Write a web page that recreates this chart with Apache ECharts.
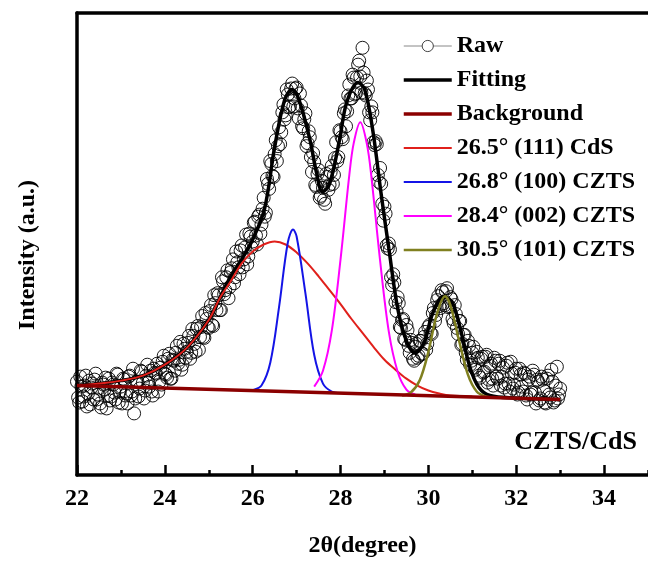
<!DOCTYPE html>
<html>
<head>
<meta charset="utf-8">
<script src="https://cdn.jsdelivr.net/npm/echarts@6/dist/echarts.min.js"></script>
<style>
html,body{margin:0;padding:0;background:#fff;}
#chart{width:648px;height:563px;}
</style>
</head>
<body>
<div id="chart"></div>
<script>
// ---- data (2theta in degrees, intensity in arbitrary units) ----
const seriesNames = ['Raw', 'Fitting', 'Background', '26.5\u00b0 (111) CdS', '26.8\u00b0 (100) CZTS', '28.4\u00b0 (002) CZTS', '30.5\u00b0 (101) CZTS'];
const xTitle = '2\u03b8(degree)';
const yTitle = 'Intensity (a.u.)';
const sampleLabel = 'CZTS/CdS';

const rawData = [
[22.00,94],[22.05,73],[22.10,89],[22.15,79],[22.20,100],[22.25,82],[22.30,71],[22.35,92],[22.40,96],[22.45,76],
[22.50,87],[22.55,68],[22.60,91],[22.65,98],[22.70,80],[22.75,75],[22.80,93],[22.85,83],[22.90,102],[22.95,73],
[23.00,89],[23.05,97],[23.10,80],[23.15,72],[23.20,100],[23.25,84],[23.30,62],[23.35,94],[23.40,79],[23.45,105],
[23.50,93],[23.55,85],[23.60,111],[23.65,89],[23.70,84],[23.75,107],[23.80,102],[23.85,84],[23.90,108],[23.95,114],
[24.00,102],[24.05,98],[24.10,122],[24.15,97],[24.20,115],[24.25,123],[24.30,112],[24.35,134],[24.40,111],[24.45,127],
[24.50,124],[24.55,140],[24.60,123],[24.65,140],[24.70,124],[24.75,150],[24.80,139],[24.85,160],[24.90,138],[24.95,157],
[25.00,148],[25.05,171],[25.10,150],[25.15,173],[25.20,183],[25.25,166],[25.30,199],[25.35,182],[25.40,199],[25.45,178],
[25.50,204],[25.55,217],[25.60,199],[25.65,214],[25.70,202],[25.75,231],[25.80,217],[25.85,242],[25.90,220],[25.95,240],
[26.00,235],[26.05,255],[26.10,232],[26.15,262],[26.20,252],[26.25,279],[26.30,264],[26.35,293],[26.40,316],[26.45,301],
[26.50,323],[26.55,316],[26.60,350],[26.65,345],[26.70,373],[26.75,362],[26.80,383],[26.85,371],[26.90,394],[26.95,379],
[27.00,390],[27.05,359],[27.10,372],[27.15,349],[27.20,364],[27.25,334],[27.30,340],[27.35,305],[27.40,315],[27.45,290],
[27.50,307],[27.55,281],[27.60,289],[27.65,273],[27.70,300],[27.75,292],[27.80,311],[27.85,302],[27.90,335],[27.95,320],
[28.00,346],[28.05,338],[28.10,368],[28.15,366],[28.20,393],[28.25,379],[28.30,400],[28.35,384],[28.40,413],[28.45,401],
[28.50,430],[28.55,384],[28.60,397],[28.65,365],[28.70,371],[28.75,335],[28.80,336],[28.85,302],[28.90,309],[28.95,273],
[29.00,270],[29.05,231],[29.10,233],[29.15,199],[29.20,202],[29.25,174],[29.30,179],[29.35,149],[29.40,156],[29.45,137],
[29.50,151],[29.55,130],[29.60,136],[29.65,117],[29.70,129],[29.75,118],[29.80,135],[29.85,122],[29.90,139],[29.95,126],
[30.00,149],[30.05,143],[30.10,163],[30.15,155],[30.20,176],[30.25,170],[30.30,186],[30.35,173],[30.40,185],[30.45,169],
[30.50,179],[30.55,157],[30.60,171],[30.65,148],[30.70,155],[30.75,131],[30.80,141],[30.85,123],[30.90,135],[30.95,111],
[31.00,123],[31.05,108],[31.10,124],[31.15,100],[31.20,117],[31.25,103],[31.30,119],[31.35,93],[31.40,110],[31.45,97],
[31.50,118],[31.55,99],[31.60,112],[31.65,90],[31.70,108],[31.75,92],[31.80,113],[31.85,84],[31.90,102],[31.95,91],
[32.00,107],[32.05,83],[32.10,101],[32.15,84],[32.20,102],[32.25,76],[32.30,99],[32.35,83],[32.40,101],[32.45,72],
[32.50,94],[32.55,77],[32.60,96],[32.65,73],[32.70,97],[32.75,81],[32.80,106],[32.85,73],[32.90,90],[32.95,77],
[33.00,87],
[22.025,78],[22.075,99],[22.125,74],[22.175,90],[22.225,69],[22.275,95],[22.325,88],[22.375,76],[22.425,102],[22.475,81],
[22.525,72],[22.575,93],[22.625,86],[22.675,67],[22.725,97],[22.775,79],[22.825,91],[22.875,76],[22.925,101],[22.975,84],
[23.025,72],[23.075,96],[23.125,82],[23.175,99],[23.225,80],[23.275,107],[23.325,77],[23.375,94],[23.425,87],[23.475,104],
[23.525,77],[23.575,100],[23.625,93],[23.675,105],[23.725,80],[23.775,103],[23.825,112],[23.875,94],[23.925,91],[23.975,120],
[24.025,101],[24.075,117],[24.125,97],[24.175,116],[24.225,105],[24.275,130],[24.325,116],[24.375,106],[24.425,132],[24.475,118],
[24.525,133],[24.575,117],[24.625,147],[24.675,132],[24.725,147],[24.775,126],[24.825,149],[24.875,139],[24.925,163],[24.975,149],
[25.025,165],[25.075,151],[25.125,181],[25.175,166],[25.225,181],[25.275,166],[25.325,195],[25.375,186],[25.425,206],[25.475,189],
[25.525,208],[25.575,193],[25.625,225],[25.675,209],[25.725,226],[25.775,209],[25.825,229],[25.875,212],[25.925,243],[25.975,229],
[26.025,254],[26.075,241],[26.125,260],[26.175,243],[26.225,268],[26.275,260],[26.325,298],[26.375,288],[26.425,313],[26.475,300],
[26.525,337],[26.575,331],[26.625,333],[26.675,365],[26.725,358],[26.775,388],[26.825,370],[26.875,389],[26.925,371],[26.975,389],
[27.025,369],[27.075,384],[27.125,351],[27.175,358],[27.225,331],[27.275,346],[27.325,320],[27.375,324],[27.425,292],[27.475,303],
[27.525,279],[27.575,296],[27.625,277],[27.675,303],[27.725,287],[27.775,305],[27.825,293],[27.875,319],[27.925,316],[27.975,347],
[28.025,340],[28.075,364],[28.125,351],[28.175,382],[28.225,379],[28.275,403],[28.325,383],[28.375,400],[28.425,417],[28.475,385],
[28.525,405],[28.575,382],[28.625,388],[28.675,357],[28.725,365],[28.775,332],[28.825,333],[28.875,295],[28.925,293],[28.975,256],
[29.025,263],[29.075,228],[29.125,227],[29.175,191],[29.225,194],[29.275,165],[29.325,173],[29.375,148],[29.425,157],[29.475,136],
[29.525,146],[29.575,123],[29.625,133],[29.675,115],[29.725,132],[29.775,120],[29.825,135],[29.875,122],[29.925,144],[29.975,132],
[30.025,151],[30.075,142],[30.125,168],[30.175,161],[30.225,180],[30.275,168],[30.325,184],[30.375,171],[30.425,188],[30.475,170],
[30.525,177],[30.575,153],[30.625,162],[30.675,142],[30.725,155],[30.775,132],[30.825,141],[30.875,116],[30.925,130],[30.975,115],
[31.025,129],[31.075,106],[31.125,118],[31.175,98],[31.225,119],[31.275,104],[31.325,121],[31.375,96],[31.425,112],[31.475,90],
[31.525,115],[31.575,97],[31.625,115],[31.675,99],[31.725,88],[31.775,110],[31.825,92],[31.875,114],[31.925,87],[31.975,103],
[32.025,81],[32.075,107],[32.125,89],[32.175,103],[32.225,80],[32.275,96],[32.325,81],[32.375,105],[32.425,83],[32.475,96],
[32.525,75],[32.575,99],[32.625,85],[32.675,72],[32.725,100],[32.775,78],[32.825,94],[32.875,75],[32.925,109],[32.975,81]
];

const fitData = [
[22,90],[22.5,92],[23,95],[23.5,100],[24,111],[24.5,128],[25,156],[25.25,178],[25.5,200],[25.75,217],
[26.0,237],[26.27,268],[26.5,330],[26.73,378],[26.9,388],[27.05,378],[27.3,338],[27.45,305],[27.59,285],[27.75,293],
[27.98,338],[28.14,375],[28.4,395],[28.55,388],[28.73,348],[28.93,281],[29.1,228],[29.3,168],[29.5,135],[29.7,123],
[29.9,133],[30.1,163],[30.35,180],[30.55,173],[30.75,143],[30.95,108],[31.15,88],[31.4,80],[32,77.5],[33,76]
];

const backgroundData = [[22,90],[33,76]];

const cdsData = [
[22,90],[22.5,92],[23,95],[23.5,100],[24,111],[24.5,128],[25,156],[25.25,178],[25.5,195],[25.75,213],
[26,225],[26.25,232],[26.5,235],[26.75,232],[27,224],[27.25,213],[27.5,200],[27.75,186],[28,172],[28.25,157],
[28.5,143],[28.75,129],[29,116],[29.25,106],[29.5,97],[29.75,90],[30,85],[30.25,82],[30.5,80],[31,79]
];

const czts100Data = [
[25.8,84.5],[26.0,85.5],[26.2,90],[26.4,113],[26.6,169],[26.8,234],[26.92,247],[27.0,240],[27.2,183],[27.4,121],
[27.6,92],[27.8,84],[28.0,82.5]
];

const czts002Data = [
[27.4,89],[27.6,105],[27.8,145],[28.0,217],[28.2,302],[28.3,334],[28.45,355],[28.6,333],[28.7,301],[28.9,216],
[29.1,144],[29.3,104],[29.5,86],[29.7,81]
];

const czts101Data = [
[29.4,80],[29.6,83],[29.8,95],[30.0,124],[30.2,163],[30.38,180],[30.5,171],[30.7,135],[30.9,101],[31.1,84],
[31.3,79],[31.5,78]
];

const xMin = 22, xMax = 35, yMin = 0, yMax = 465;

// ---- chart ----
const FONT = "'Liberation Serif','Times New Roman',serif";
const chart = echarts.init(document.getElementById('chart'), null, {renderer: 'canvas'});

const baseLine = (color, width) => ({color: color, width: width});
const noSym = {opacity: 0, borderWidth: 0};

chart.setOption({
  animation: false,
  backgroundColor: '#fff',
  grid: {left: 77, right: -1, top: 13, bottom: 85, containLabel: false},
  legend: {
    orient: 'vertical', left: 402, top: 34, padding: 0,
    itemWidth: 48, itemHeight: 14, itemGap: 10,
    textStyle: {fontFamily: FONT, fontWeight: 'bold', fontSize: 24, color: '#000', lineHeight: 24},
    data: [
      {name: seriesNames[0], lineStyle: {color: '#888', width: 1, opacity: 1}, itemStyle: {color: '#fff', borderColor: '#444', borderWidth: 1}},
      {name: seriesNames[1], lineStyle: {width: 3.5}, itemStyle: noSym},
      {name: seriesNames[2], lineStyle: {width: 3.5}, itemStyle: noSym},
      {name: seriesNames[3], lineStyle: {width: 2}, itemStyle: noSym},
      {name: seriesNames[4], lineStyle: {width: 2}, itemStyle: noSym},
      {name: seriesNames[5], lineStyle: {width: 2}, itemStyle: noSym},
      {name: seriesNames[6], lineStyle: {width: 2.5}, itemStyle: noSym}
    ]
  },
  xAxis: [
    {
      type: 'value', min: xMin, max: xMax, interval: 2, position: 'bottom',
      name: xTitle, nameLocation: 'middle', nameGap: 59,
      nameTextStyle: {fontFamily: FONT, fontWeight: 'bold', fontSize: 24, color: '#000'},
      axisLine: {show: true, lineStyle: {color: '#000', width: 3.5}},
      axisTick: {show: true, inside: true, length: 10, lineStyle: {color: '#000', width: 2.5}},
      axisLabel: {show: true, margin: 12, showMaxLabel: false, fontFamily: FONT, fontWeight: 'bold', fontSize: 24, color: '#000'},
      splitLine: {show: false}
    },
    {
      type: 'value', min: xMin, max: xMax, interval: 1, position: 'bottom', gridIndex: 0,
      axisLine: {show: false},
      axisTick: {show: true, inside: true, length: 5, lineStyle: {color: '#000', width: 2.5}},
      axisLabel: {show: false},
      splitLine: {show: false}
    },
    {
      type: 'value', min: xMin, max: xMax, position: 'top',
      axisLine: {show: true, lineStyle: {color: '#000', width: 3.5}},
      axisTick: {show: false}, axisLabel: {show: false}, splitLine: {show: false}
    }
  ],
  yAxis: {
    type: 'value', min: yMin, max: yMax,
    axisLine: {show: true, lineStyle: {color: '#000', width: 3.5}},
    axisTick: {show: false}, axisLabel: {show: false}, splitLine: {show: false}
  },
  graphic: [
    {
      type: 'text', right: 11, top: 429,
      style: {text: sampleLabel, font: "bold 26px 'Liberation Serif','Times New Roman',serif", fill: '#000'}
    },
    {
      type: 'text', x: 28, y: 255, rotation: Math.PI / 2,
      style: {text: yTitle, font: "bold 24px 'Liberation Serif','Times New Roman',serif", fill: '#000',
              textAlign: 'center', textVerticalAlign: 'middle'}
    }
  ],
  series: [
    {
      name: seriesNames[0], type: 'line', data: rawData,
      symbol: 'circle', symbolSize: 13, showSymbol: true,
      itemStyle: {color: 'rgba(255,255,255,0)', borderColor: '#000', borderWidth: 0.9},
      lineStyle: {width: 0, opacity: 0},
      silent: true, z: 2
    },
    {name: seriesNames[1], type: 'line', data: fitData, smooth: 0.35, showSymbol: false, symbol: 'none',
     lineStyle: baseLine('#000', 3.5), itemStyle: {color: '#000'}, silent: true, z: 3},
    {name: seriesNames[3], type: 'line', data: cdsData, smooth: 0.35, showSymbol: false, symbol: 'none',
     lineStyle: baseLine('#e0201b', 2), itemStyle: {color: '#e0201b'}, silent: true, z: 4},
    {name: seriesNames[4], type: 'line', data: czts100Data, smooth: 0.35, showSymbol: false, symbol: 'none',
     lineStyle: baseLine('#1414e6', 2), itemStyle: {color: '#1414e6'}, silent: true, z: 4},
    {name: seriesNames[5], type: 'line', data: czts002Data, smooth: 0.35, showSymbol: false, symbol: 'none',
     lineStyle: baseLine('#ff00ff', 2), itemStyle: {color: '#ff00ff'}, silent: true, z: 4},
    {name: seriesNames[6], type: 'line', data: czts101Data, smooth: 0.35, showSymbol: false, symbol: 'none',
     lineStyle: baseLine('#808020', 2.5), itemStyle: {color: '#808020'}, silent: true, z: 4},
    {name: seriesNames[2], type: 'line', data: backgroundData, showSymbol: false, symbol: 'none',
     lineStyle: baseLine('#8b0000', 3.5), itemStyle: {color: '#8b0000'}, silent: true, z: 5}
  ]
});
</script>
</body>
</html>
